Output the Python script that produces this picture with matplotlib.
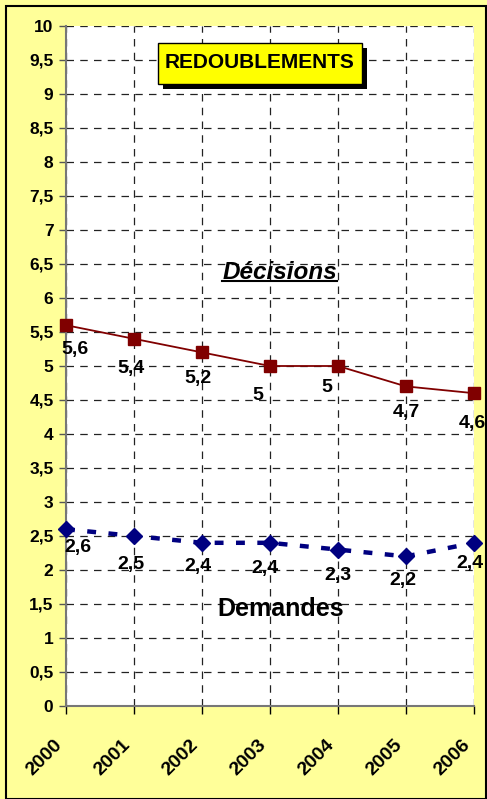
import matplotlib
matplotlib.use("Agg")
import matplotlib.pyplot as plt
import matplotlib.transforms as mtransforms
from matplotlib.patches import Rectangle
from matplotlib.lines import Line2D
from matplotlib.ticker import MultipleLocator, FuncFormatter

plt.rcParams['font.family'] = ['Liberation Sans', 'DejaVu Sans']

years = [2000, 2001, 2002, 2003, 2004, 2005, 2006]
decisions = [5.6, 5.4, 5.2, 5, 5, 4.7, 4.6]
demandes = [2.6, 2.5, 2.4, 2.4, 2.3, 2.2, 2.4]

# label placement relative to the marker, in pixels (dx, dy downwards)
dec_offsets = [(9, 24), (-3, 30), (-4, 26), (-12, 29), (-11, 22), (0, 26), (-2, 30)]
dem_offsets = [(12, 18), (-3, 28), (-4, 24), (-5, 26), (0, 26), (-3, 24), (-4, 21)]

def fr(v):
    return ('%g' % v).replace('.', ',')

W, H = 487, 799
fig = plt.figure(figsize=(W / 100, H / 100), dpi=100)
fig.patch.set_facecolor('#FFFF99')
# outer black frame
fig.patches.append(Rectangle((6 / W, 0), (W - 7) / W, (H - 6) / H, transform=fig.transFigure,
                             fill=False, ec='black', lw=1.5))

ax = fig.add_axes([66 / W, 1 - 706 / H, (474 - 66) / W, (706 - 26) / H])
ax.set_facecolor('white')

ax.plot(years, decisions, color='#800000', lw=1.3, marker='s', ms=8, clip_on=False, zorder=5)
ax.plot(years, demandes, color='#000080', lw=3.2, ls=(0, (2.0, 2.8)), marker='D', ms=8.5,
        clip_on=False, zorder=5)

for x, y, (dx, dy) in zip(years, decisions, dec_offsets):
    ax.annotate(fr(y), (x, y), xytext=(dx, -dy), textcoords='offset pixels',
                ha='center', va='center', fontsize=14, fontweight='bold', annotation_clip=False, zorder=6)
for x, y, (dx, dy) in zip(years, demandes, dem_offsets):
    ax.annotate(fr(y), (x, y), xytext=(dx, -dy), textcoords='offset pixels',
                ha='center', va='center', fontsize=14, fontweight='bold', annotation_clip=False, zorder=6)

ax.set_xlim(2000, 2006)
ax.set_ylim(0, 10)
ax.yaxis.set_major_locator(MultipleLocator(0.5))
ax.yaxis.set_major_formatter(FuncFormatter(lambda v, p: fr(round(v, 1))))
ax.set_xticks(years)
ax.set_xticklabels([str(y) for y in years], rotation=45, ha='right', va='top',
                   fontsize=14, fontweight='bold')
shift = mtransforms.ScaledTranslation(-18 / 100, 0, fig.dpi_scale_trans)
for lab in ax.get_xticklabels():
    lab.set_transform(lab.get_transform() + shift)
for lab in ax.get_yticklabels():
    lab.set_fontsize(12.5)
    lab.set_fontweight('bold')

ax.grid(True, color='#222222', ls=(0, (6, 5)), lw=0.9)
ax.set_axisbelow(True)
ax.tick_params(axis='y', length=5, width=1, color='#555555', pad=4)
ax.tick_params(axis='x', length=6, width=1, color='black', pad=16)
for s in ['top', 'right']:
    ax.spines[s].set_visible(False)
for s in ['left', 'bottom']:
    ax.spines[s].set_color('#777777')
    ax.spines[s].set_linewidth(1.5)

dec_txt = ax.text(2003.14, 6.37, 'Décisions', ha='center', va='center', fontsize=17.5,
                  fontweight='bold', fontstyle='italic')
ax.text(2003.15, 1.42, 'Demandes', ha='center', va='center', fontsize=18, fontweight='bold')

# title box with shadow
fig.patches.append(Rectangle((163 / W, 1 - 89 / H), 204 / W, 41 / H, transform=fig.transFigure,
                             fc='black', ec='none', zorder=5))
fig.patches.append(Rectangle((158 / W, 1 - 84 / H), 204 / W, 41 / H, transform=fig.transFigure,
                             fc='#FFFF00', ec='black', lw=1, zorder=6))
fig.text(260 / W, 1 - 62 / H, 'REDOUBLEMENTS', ha='center', va='center', fontsize=15,
         fontweight='bold', zorder=7)

# underline under "Décisions"
fig.canvas.draw()
bb = dec_txt.get_window_extent()
yl = bb.y0 + 3
fig.lines.append(Line2D([bb.x0 / W, bb.x1 / W], [yl / H, yl / H], transform=fig.transFigure,
                        color='black', lw=1.5))

fig.savefig('out.png', dpi=100, facecolor=fig.get_facecolor())
